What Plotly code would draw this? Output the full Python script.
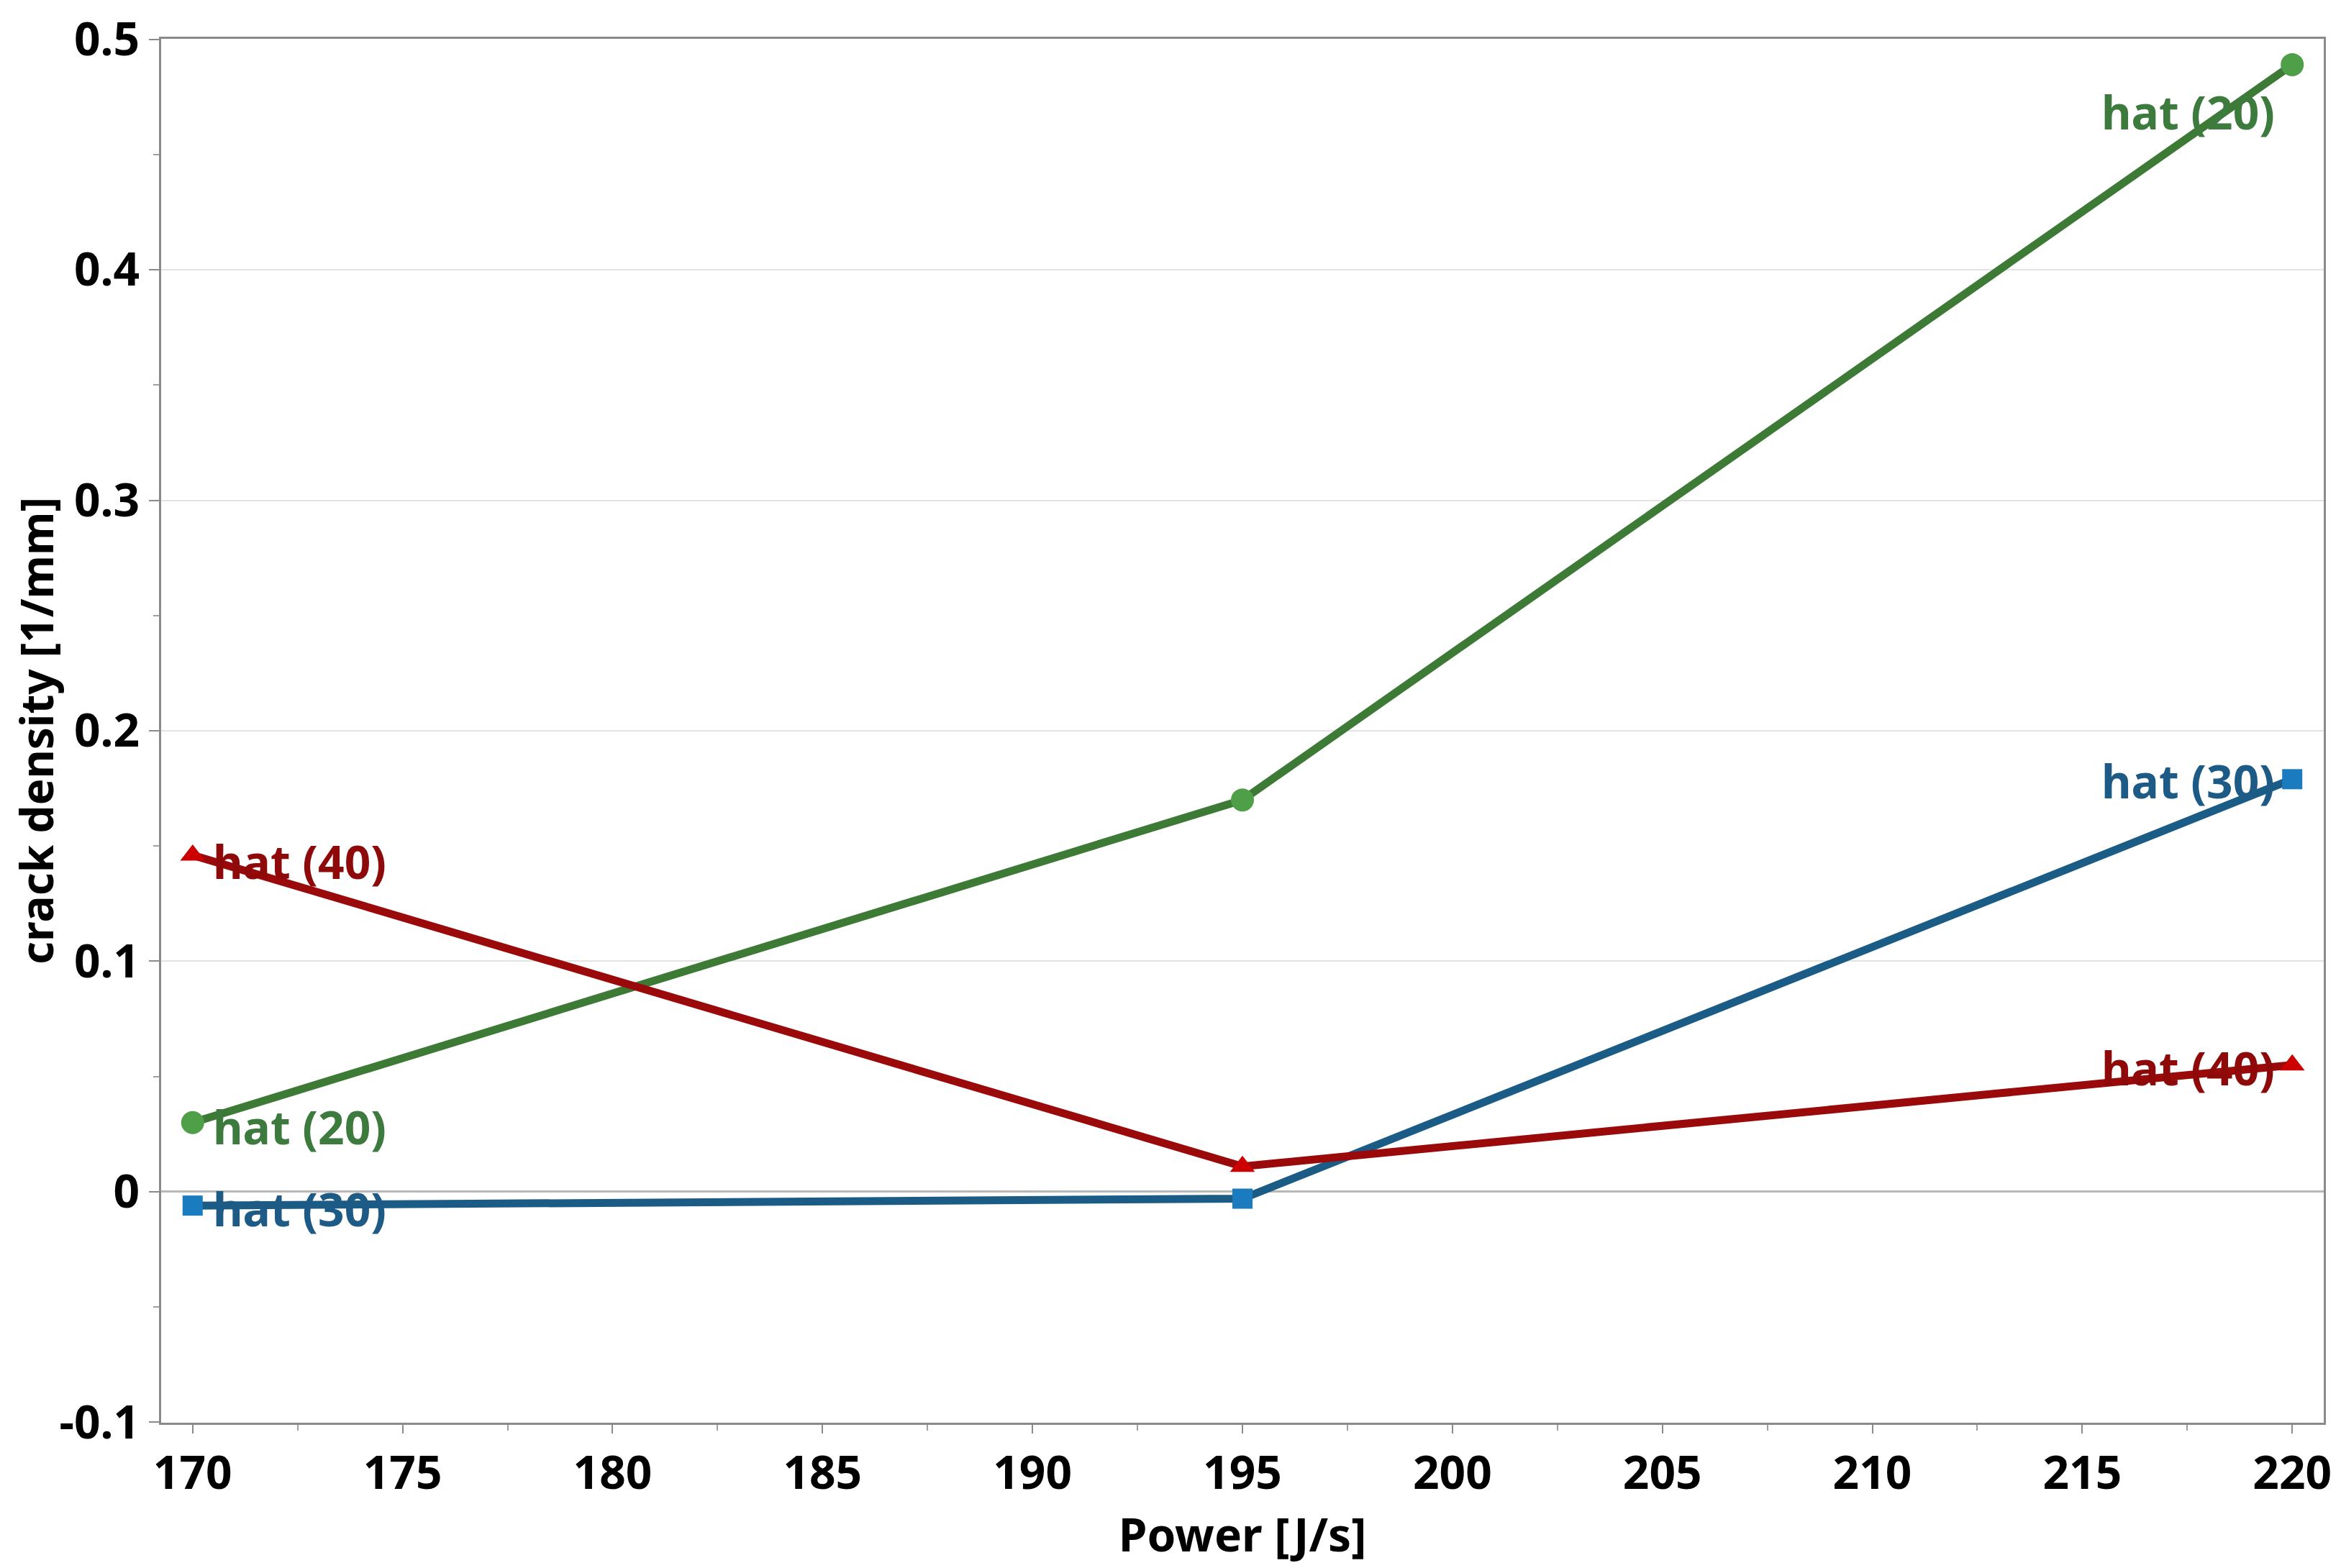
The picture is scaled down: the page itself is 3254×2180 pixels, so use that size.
import plotly.graph_objects as go

power = [170, 195, 220]
hat20 = [0.030, 0.170, 0.489]
hat30 = [-0.006, -0.003, 0.179]
hat40 = [0.146, 0.011, 0.055]
series_names = ["hat (20)", "hat (30)", "hat (40)"]

y_tickvals = [-0.1, 0, 0.1, 0.2, 0.3, 0.4, 0.5]
y_ticktext = ["-0.1", "0", "0.1", "0.2", "0.3", "0.4", "0.5"]
x_tickvals = [170, 175, 180, 185, 190, 195, 200, 205, 210, 215, 220]

FONT = "Noto Sans"

series = [
    (hat20, series_names[0], "#3d7a36", "#4f9e48", "circle", "#3d7a3d", 32),
    (hat30, series_names[1], "#1b5c87", "#1a7cbf", "square", "#1d5b86", 28),
    (hat40, series_names[2], "#9a0a0a", "#cc0000", "triangle-up", "#8e0a0a", 30),
]

fig = go.Figure()
for vals, name, lc, mc, sym, tc, ms in series:
    fig.add_trace(go.Scatter(
        x=power, y=vals, mode="lines+markers", name=name,
        line=dict(color=lc, width=11),
        marker=dict(color=mc, symbol=sym, size=ms, line=dict(width=0)),
        showlegend=False,
    ))

left_shift = {series_names[0]: (-6), series_names[1]: (-4), series_names[2]: (-8)}
right_shift = {series_names[0]: (-66), series_names[1]: (-2), series_names[2]: (-4)}
for vals, name, lc, mc, sym, tc, ms in series:
    fig.add_annotation(x=power[0], y=vals[0], xref="x", yref="y", text="<b>%s</b>" % name,
                       showarrow=False, xanchor="left", yanchor="middle",
                       xshift=26, yshift=left_shift[name],
                       font=dict(family=FONT, size=64, color=tc))
    fig.add_annotation(x=power[-1], y=vals[-1], xref="x", yref="y", text="<b>%s</b>" % name,
                       showarrow=False, xanchor="right", yanchor="middle",
                       xshift=-22, yshift=right_shift[name],
                       font=dict(family=FONT, size=64, color=tc))

fig.update_layout(
    width=3254, height=2180,
    margin=dict(l=216, r=32, t=46, b=210),
    paper_bgcolor="white", plot_bgcolor="white",
    font=dict(family=FONT, size=60, color="black"),
)
fig.update_xaxes(
    range=[169.25, 220.75], tickvals=x_tickvals, automargin=False,
    tickfont=dict(family=FONT, size=64, color="black", weight="bold"),
    showgrid=False, zeroline=False,
    showline=True, linecolor="#8a8a8a", linewidth=3, mirror=True,
    ticks="outside", ticklen=12, tickwidth=2, tickcolor="#8a8a8a",
    minor=dict(ticks="outside", dtick=2.5, ticklen=8, tickwidth=2, tickcolor="#a0a0a0", showgrid=False),
    title=dict(text="<b>Power [J/s]</b>", font=dict(family=FONT, size=64, color="black"), standoff=14),
)
fig.update_yaxes(
    range=[-0.1002, 0.5002], tickvals=y_tickvals, ticktext=y_ticktext, automargin=False,
    tickfont=dict(family=FONT, size=64, color="black", weight="bold"),
    ticklabeloverflow="allow",
    showgrid=True, gridcolor="#e3e3e3", gridwidth=2,
    zeroline=True, zerolinecolor="#b8b8b8", zerolinewidth=3,
    showline=True, linecolor="#8a8a8a", linewidth=3, mirror=True,
    ticks="outside", ticklen=14, tickwidth=2, tickcolor="#8a8a8a",
    minor=dict(ticks="outside", dtick=0.05, ticklen=8, tickwidth=2, tickcolor="#a0a0a0", showgrid=False),
    title=dict(text="<b>crack density [1/mm]</b>", font=dict(family=FONT, size=62, color="black"), standoff=14),
)

fig.write_html("out.html")
